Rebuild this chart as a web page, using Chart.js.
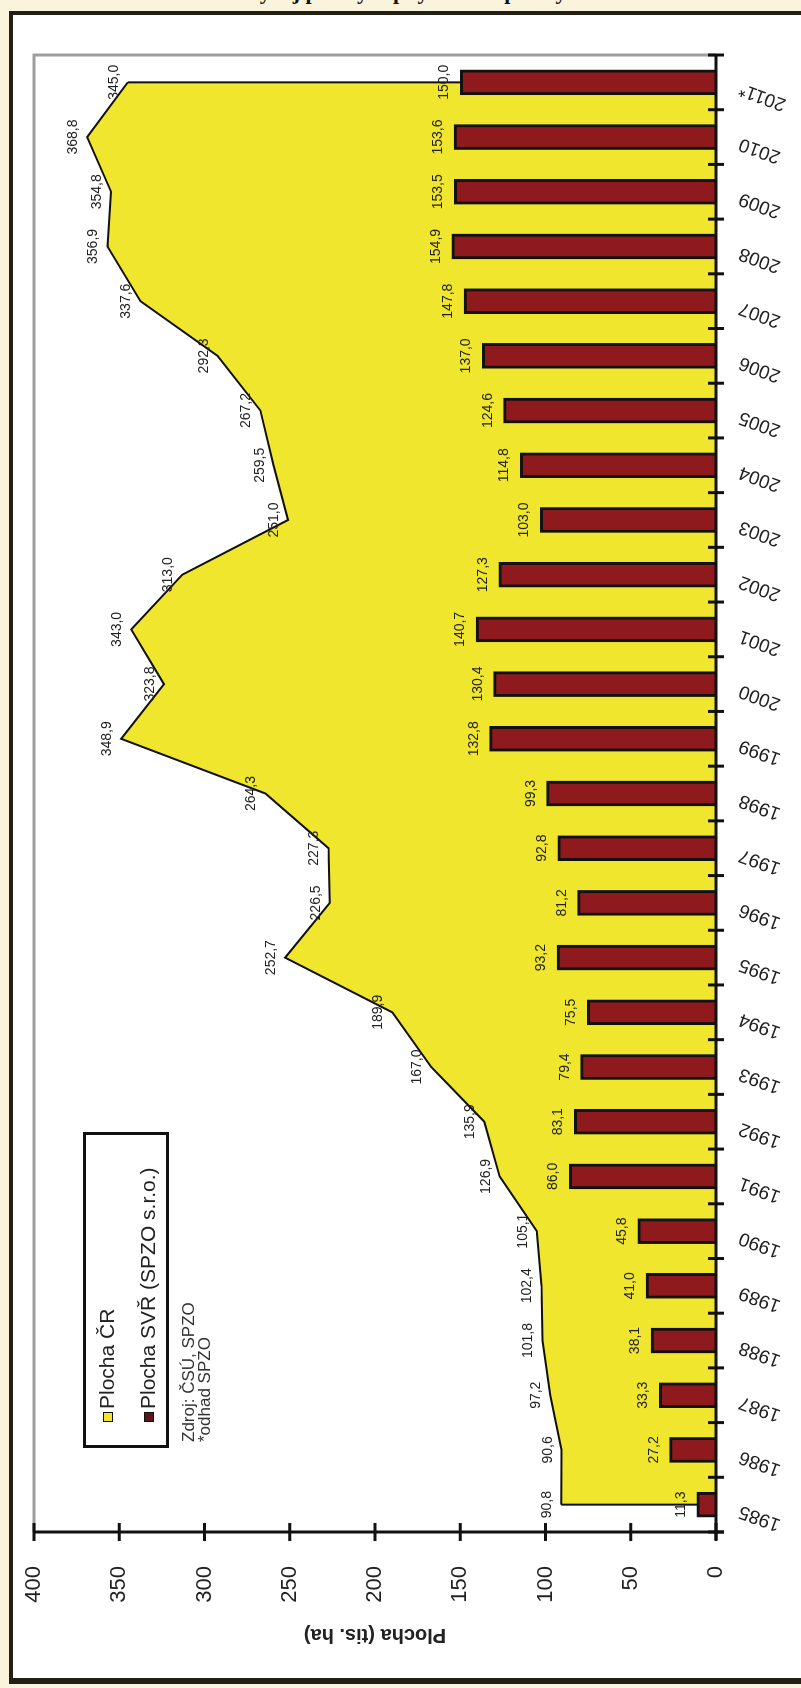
<!DOCTYPE html>
<html lang="cs">
<head>
<meta charset="utf-8">
<title>Plocha řepky v ČR a plocha SVŘ</title>
<script src="https://cdn.jsdelivr.net/npm/chart.js@4.4.1/dist/chart.umd.min.js"></script>
<style>
  html, body { margin: 0; padding: 0; }
  body {
    width: 801px; height: 1688px; position: relative; overflow: hidden;
    background: #fbf4dc;
    font-family: "Liberation Sans", Arial, sans-serif;
  }
  #heading {
    position: absolute; left: 60px; top: -21px; width: 740px;
    text-align: center; white-space: nowrap;
    font: bold 22px "Liberation Serif", "DejaVu Serif", serif; color: #111;
  }
  #frame {
    position: absolute; left: 9px; top: 11px; width: 830px; height: 1673px;
    box-sizing: border-box; background: #fff;
    border-left: 4px solid #241f15; border-top: 4px solid #241f15; border-bottom: 6px solid #241f15;
  }
  /* the chart is laid out landscape and turned a quarter turn anticlockwise */
  #turn {
    position: absolute; left: 0; top: 0; width: 1688px; height: 801px;
    transform-origin: 0 0; transform: translateY(1688px) rotate(-90deg);
  }
  #turn canvas { position: absolute; left: 0; top: 0; }
  #legend {
    position: absolute; left: 240px; top: 83px; width: 316px; height: 86px;
    box-sizing: border-box; border: 3px solid #111; background: #fff;
  }
  .row { position: absolute; left: 23px; height: 24px; line-height: 24px; font-size: 21px; color: #222; white-space: nowrap; }
  .row i { display: inline-block; width: 8px; height: 8px; border: 1px solid #111; margin-right: 3px; vertical-align: 1px; }
  #note {
    position: absolute; left: 246px; top: 181px; font-size: 17px; line-height: 16px; color: #333; white-space: nowrap;
  }
</style>
</head>
<body>
<div id="heading">Vývoj plochy řepky v ČR a plochy SVŘ</div>
<div id="frame"></div>
<div id="turn">
  <canvas id="chart" width="1688" height="801"></canvas>
  <div id="legend">
    <div class="row" style="top:9px"><i style="background:#f1e62e"></i>Plocha ČR</div>
    <div class="row" style="top:50px"><i style="background:#5e1418"></i>Plocha SVŘ (SPZO s.r.o.)</div>
  </div>
  <div id="note">Zdroj: ČSÚ, SPZO<br>*odhad SPZO</div>
</div>
<script>
// years on the category axis
const years = ['1985', '1986', '1987', '1988', '1989', '1990', '1991', '1992', '1993',
  '1994', '1995', '1996', '1997', '1998', '1999', '2000', '2001', '2002', '2003',
  '2004', '2005', '2006', '2007', '2008', '2009', '2010', '2011*'];

// Plocha ČR (tis. ha)
const plochaCR = [90.8, 90.6, 97.2, 101.8, 102.4, 105.1, 126.9, 135.9, 167.0,
  189.9, 252.7, 226.5, 227.3, 264.3, 348.9, 323.8, 343.0, 313.0, 251.0,
  259.5, 267.2, 292.3, 337.6, 356.9, 354.8, 368.8, 345.0];

// Plocha SVŘ (SPZO s.r.o.) (tis. ha)
const plochaSVR = [11.3, 27.2, 33.3, 38.1, 41.0, 45.8, 86.0, 83.1, 79.4,
  75.5, 93.2, 81.2, 92.8, 99.3, 132.8, 130.4, 140.7, 127.3, 103.0,
  114.8, 124.6, 137.0, 147.8, 154.9, 153.5, 153.6, 150.0];

// value axis ticks
const valueTicks = [0, 50, 100, 150, 200, 250, 300, 350, 400];

const FONT = '"Liberation Sans", Arial, sans-serif';
Chart.defaults.font.family = FONT;
const fmt = v => v.toFixed(1).replace('.', ',');

// closes the ends of the area outline down to the zero line
const areaEnds = {
  id: 'areaEnds',
  afterDatasetDraw(chart, args) {
    if (chart.data.datasets[args.index].type !== 'line') return;
    const pts = args.meta.data;
    const y0 = chart.scales.y.getPixelForValue(0);
    const ctx = chart.ctx;
    ctx.save();
    ctx.strokeStyle = '#111';
    ctx.lineWidth = 2;
    ctx.beginPath();
    [pts[0], pts[pts.length - 1]].forEach(p => { ctx.moveTo(p.x, y0); ctx.lineTo(p.x, p.y); });
    ctx.stroke();
    ctx.restore();
  }
};

// value labels above the bars and the area line
const valueLabels = {
  id: 'valueLabels',
  afterDatasetsDraw(chart) {
    const ctx = chart.ctx;
    ctx.save();
    ctx.font = '14px ' + FONT;
    ctx.fillStyle = '#222';
    ctx.textAlign = 'center';
    ctx.textBaseline = 'alphabetic';
    chart.data.datasets.forEach((ds, i) => {
      const gap = ds.type === 'line' ? 10 : 12;
      chart.getDatasetMeta(i).data.forEach((el, j) => {
        ctx.fillText(fmt(ds.data[j]), el.x, el.y - gap);
      });
    });
    ctx.restore();
  }
};

// axis lines with crossing tick marks, grey border on the far sides
const axisLines = {
  id: 'axisLines',
  afterDraw(chart) {
    const { ctx, chartArea: a, scales: { x, y } } = chart;
    ctx.save();
    ctx.lineCap = 'butt';
    ctx.strokeStyle = '#9e9e9e';
    ctx.lineWidth = 3;
    ctx.beginPath();
    ctx.moveTo(a.left, a.top); ctx.lineTo(a.right, a.top); ctx.lineTo(a.right, a.bottom);
    ctx.stroke();

    ctx.strokeStyle = '#111';
    ctx.lineWidth = 3;
    ctx.beginPath();
    ctx.moveTo(a.left, a.top - 1); ctx.lineTo(a.left, a.bottom + 8);
    ctx.moveTo(a.left - 8, a.bottom); ctx.lineTo(a.right + 1, a.bottom);
    ctx.stroke();

    ctx.lineWidth = 3;
    ctx.beginPath();
    for (let i = 0; i <= years.length; i++) {
      const px = x.getPixelForValue(i - 0.5);
      ctx.moveTo(px, a.bottom - 8); ctx.lineTo(px, a.bottom + 8);
    }
    valueTicks.forEach(v => {
      const py = y.getPixelForValue(v);
      ctx.moveTo(a.left - 9, py); ctx.lineTo(a.left + 9, py);
    });
    ctx.stroke();
    ctx.restore();
  }
};

new Chart(document.getElementById('chart'), {
  type: 'bar',
  data: {
    labels: years,
    datasets: [
      {
        type: 'bar',
        label: 'Plocha SVŘ (SPZO s.r.o.)',
        data: plochaSVR,
        backgroundColor: '#8f1a1d',
        borderColor: '#111',
        borderWidth: 3,
        borderSkipped: 'start',
        barThickness: 25,
        order: 0
      },
      {
        type: 'line',
        label: 'Plocha ČR',
        data: plochaCR,
        fill: 'origin',
        backgroundColor: '#f1e62e',
        borderColor: '#111',
        borderWidth: 2,
        pointRadius: 0,
        tension: 0,
        order: 1
      }
    ]
  },
  options: {
    responsive: false,
    animation: false,
    layout: { padding: { top: 34, right: 55, bottom: 0, left: 0 } },
    plugins: { legend: { display: false }, tooltip: { enabled: false } },
    scales: {
      x: {
        type: 'category',
        offset: true,
        grid: { display: false },
        border: { display: false },
        ticks: { autoSkip: false, minRotation: 70, maxRotation: 70, padding: 12, labelOffset: -6, color: '#222', font: { size: 19 } },
        afterFit(s) { s.height = 85; }
      },
      y: {
        min: 0,
        max: 400,
        // invisible tick length only spaces the labels away from the axis
        grid: { display: true, drawOnChartArea: false, drawTicks: true, tickLength: 30, color: 'rgba(0,0,0,0)' },
        border: { display: false },
        afterBuildTicks(s) { s.ticks = valueTicks.map(v => ({ value: v })); },
        ticks: { padding: 4, color: '#222', font: { size: 22 } },
        title: { display: true, text: 'Plocha (tis. ha)', color: '#222', font: { size: 20, weight: 'bold' }, padding: { top: 41 } },
        afterFit(s) { s.width = 156; }
      }
    }
  },
  plugins: [areaEnds, valueLabels, axisLines]
});
</script>
</body>
</html>
